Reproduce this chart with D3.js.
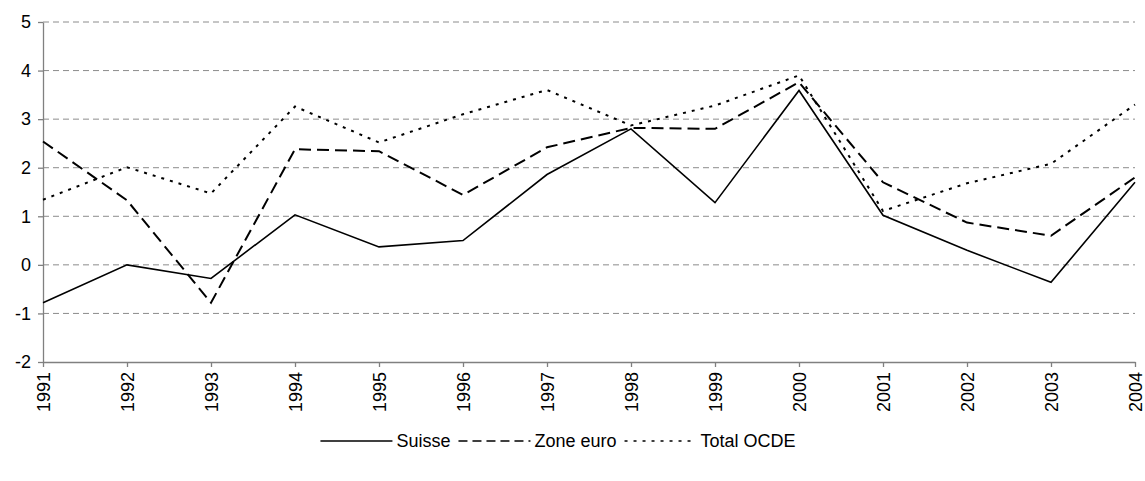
<!DOCTYPE html>
<html>
<head>
<meta charset="utf-8">
<script src="https://cdn.jsdelivr.net/npm/d3@7"></script>
<style>
  body { margin: 0; background: #fff; }
  svg text { font-family: "Liberation Sans", Arial, sans-serif; fill: #000; }
</style>
</head>
<body>
<svg id="chart" width="1145" height="481"></svg>
<script>
var years = ["1991","1992","1993","1994","1995","1996","1997","1998","1999","2000","2001","2002","2003","2004"];
var suisse    = [-0.78, 0.0, -0.28, 1.03, 0.37, 0.50, 1.86, 2.80, 1.28, 3.59, 1.02, 0.30, -0.36, 1.70];
var zoneEuro  = [2.54, 1.33, -0.78, 2.38, 2.34, 1.44, 2.42, 2.82, 2.80, 3.76, 1.70, 0.87, 0.60, 1.80];
var totalOcde = [1.34, 2.01, 1.47, 3.26, 2.52, 3.10, 3.60, 2.87, 3.28, 3.90, 1.11, 1.68, 2.08, 3.30];
var yTicks = [-2, -1, 0, 1, 2, 3, 4, 5];
var seriesNames = ["Suisse", "Zone euro", "Total OCDE"];

var svg = d3.select("#chart");
var plotLeft = 43, plotRight = 1135, plotTop = 22, plotBottom = 362;

var x = d3.scalePoint().domain(years).range([plotLeft, plotRight]);
var y = d3.scaleLinear().domain([-2, 5]).range([plotBottom, plotTop]);

// gridlines
svg.append("g").selectAll("line")
  .data(yTicks.filter(function(d) { return d > -2; }))
  .enter().append("line")
  .attr("x1", plotLeft).attr("x2", plotRight)
  .attr("y1", function(d) { return y(d); })
  .attr("y2", function(d) { return y(d); })
  .attr("stroke", "#8c8c8c")
  .attr("stroke-width", 1)
  .attr("stroke-dasharray", "6,4");

var yAxis = svg.append("g")
  .attr("transform", "translate(" + plotLeft + ",0)")
  .call(d3.axisLeft(y).tickValues(yTicks).tickSize(5).tickSizeOuter(0).tickPadding(7).tickFormat(String));

var xAxis = svg.append("g")
  .attr("transform", "translate(0," + plotBottom + ")")
  .call(d3.axisBottom(x).tickSize(5).tickSizeOuter(0).tickPadding(8));

xAxis.selectAll("text")
  .attr("transform", "rotate(-90)")
  .attr("text-anchor", "end")
  .attr("x", -10)
  .attr("y", 0)
  .attr("dy", "0.36em");

[yAxis, xAxis].forEach(function(a) {
  a.selectAll("path, line").attr("stroke", "#808080").attr("stroke-width", 1.3);
  a.selectAll("text").style("font-size", "18px");
});

var styles = [
  { dash: null, width: 1.6 },
  { dash: "12,6", width: 2 },
  { dash: "3,6", width: 2 }
];
var allSeries = [suisse, zoneEuro, totalOcde];

var line = d3.line()
  .x(function(d, i) { return x(years[i]); })
  .y(function(d) { return y(d); });

allSeries.forEach(function(s, k) {
  svg.append("path")
    .datum(s)
    .attr("d", line)
    .attr("fill", "none")
    .attr("stroke", "#000")
    .attr("stroke-width", styles[k].width)
    .attr("stroke-dasharray", styles[k].dash);
});

// legend, centred a bit left of the plot centre like the original
var legend = svg.append("g");
var lx = 0, ly = 441;
seriesNames.forEach(function(name, k) {
  var g = legend.append("g").attr("transform", "translate(" + lx + ",0)");
  g.append("line")
    .attr("x1", 0).attr("x2", 72)
    .attr("y1", ly).attr("y2", ly)
    .attr("stroke", "#000")
    .attr("stroke-width", k == 0 ? 1.6 : 1.4)
    .attr("stroke-dasharray", k == 1 ? "9,5" : (k == 2 ? "3,6" : null));
  var t = g.append("text")
    .attr("x", 76).attr("y", ly).attr("dy", "0.35em")
    .style("font-size", "18px")
    .text(name);
  lx += 76 + t.node().getComputedTextLength() + 8;
});
legend.attr("transform", "translate(" + (562 - lx / 2) + ",0)");
</script>
</body>
</html>
